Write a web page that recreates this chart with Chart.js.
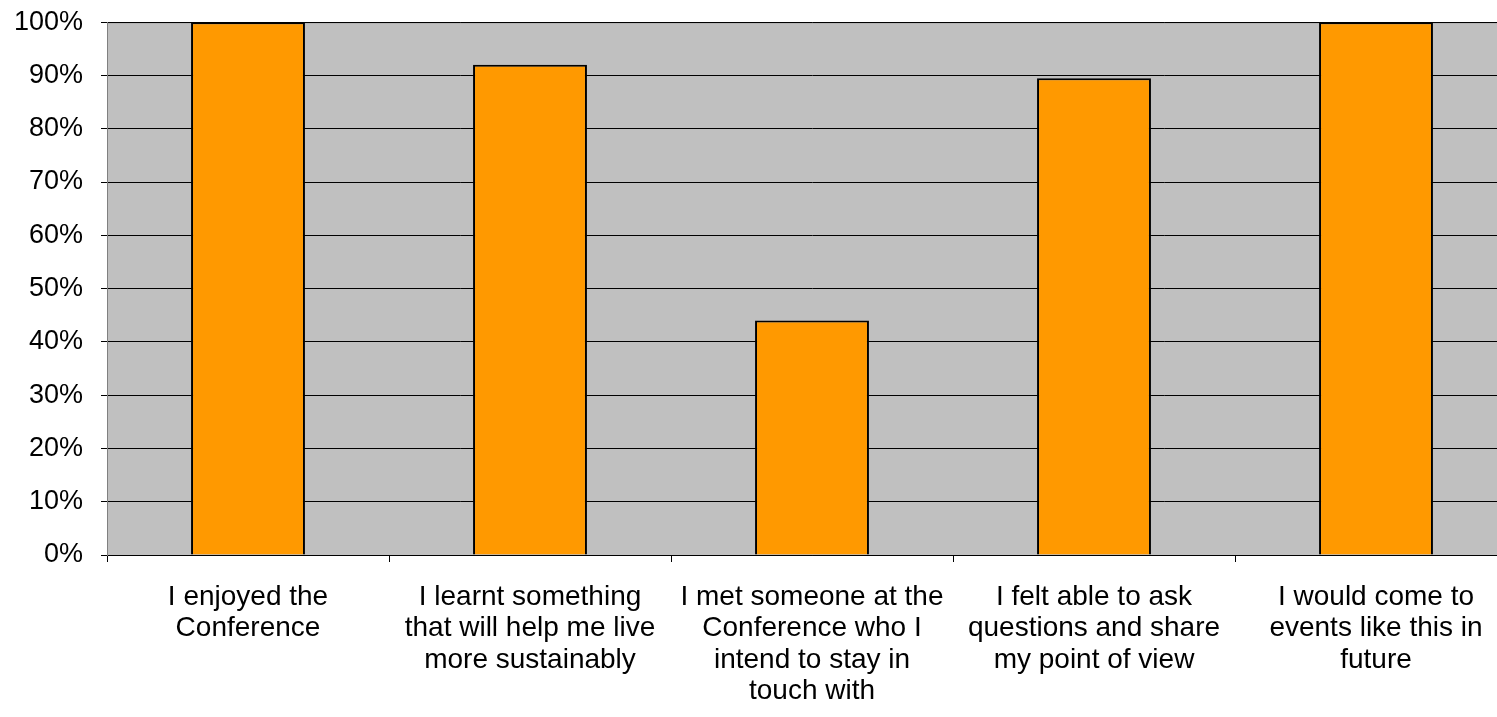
<!DOCTYPE html>
<html>
<head>
<meta charset="utf-8">
<script src="https://cdn.jsdelivr.net/npm/chart.js@4/dist/chart.umd.min.js"></script>
<style>
  html, body { margin: 0; padding: 0; background: #fff; overflow: hidden; }
  #wrap { width: 1497px; height: 717px; overflow: hidden; }
  #chart { display: block; margin-top: -12px; }
</style>
</head>
<body>
<div id="wrap"><canvas id="chart" width="1520" height="729"></canvas></div>
<script>
// categories (split into lines like the original)
const categories = [
  ["I enjoyed the", "Conference"],
  ["I learnt something", "that will help me live", "more sustainably"],
  ["I met someone at the", "Conference who I", "intend to stay in", "touch with"],
  ["I felt able to ask", "questions and share", "my point of view"],
  ["I would come to", "events like this in", "future"],
];
// share of respondents, %
const values = [100, 92, 44, 89.5, 100];
const yTicks = [0, 10, 20, 30, 40, 50, 60, 70, 80, 90, 100];

// grey plot background like the spreadsheet chart
const plotBg = {
  id: "plotBg",
  beforeDraw(chart) {
    const { ctx, chartArea: a } = chart;
    ctx.save();
    ctx.fillStyle = "#c0c0c0";
    ctx.fillRect(a.left, a.top, a.right - a.left, a.bottom - a.top);
    ctx.strokeStyle = "#808080";
    ctx.lineWidth = 1;
    ctx.strokeRect(a.left + 0.5, a.top + 0.5, a.right - a.left, a.bottom - a.top);
    ctx.restore();
  },
};

Chart.defaults.font.family = "'Liberation Sans', Arial, sans-serif";
Chart.defaults.font.size = 28;
Chart.defaults.color = "#000";

new Chart(document.getElementById("chart"), {
  type: "bar",
  data: {
    labels: categories,
    datasets: [
      {
        data: values,
        backgroundColor: "#ff9900",
        borderColor: "#000",
        borderWidth: 2,
        barPercentage: 0.404,
        categoryPercentage: 1,
      },
    ],
  },
  options: {
    responsive: false,
    animation: false,
    layout: { padding: { top: 4, right: 3, left: 0, bottom: 0 } },
    plugins: {
      legend: { display: false },
      tooltip: { enabled: false },
    },
    scales: {
      x: {
        grid: {
          offset: true,
          drawOnChartArea: false,
          drawTicks: true,
          tickLength: 7,
          color: "#000",
        },
        border: { display: true, color: "#000" },
        ticks: {
          padding: 19,
          maxRotation: 0,
          autoSkip: false,
          font: { size: 28, lineHeight: 1.13 },
        },
        afterFit(scale) {
          scale.height = 729 - 567;
        },
      },
      y: {
        min: 0,
        max: 100,
        afterBuildTicks(scale) {
          scale.ticks = yTicks.map((v) => ({ value: v }));
        },
        grid: {
          color: "#000",
          tickLength: 6,
          drawTicks: true,
        },
        border: { display: true, color: "#808080" },
        ticks: {
          padding: 18,
          callback: (v) => v + "%",
          font: { size: 27 },
        },
        afterFit(scale) {
          scale.width = 107;
        },
      },
    },
  },
  plugins: [plotBg],
});
</script>
</body>
</html>
